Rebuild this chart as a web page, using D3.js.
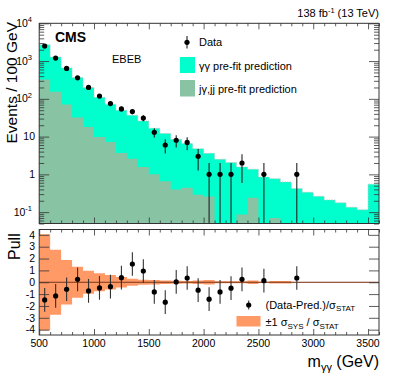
<!DOCTYPE html>
<html><head><meta charset="utf-8">
<script src="https://cdn.jsdelivr.net/npm/d3@7"></script>
<style>
body{margin:0;background:#fff}
svg{display:block;font-family:"Liberation Sans",Arial,Helvetica,sans-serif}
</style>
</head><body>
<svg id="c" width="399" height="382"></svg>
<script>
// ---------- data ----------
const binEdges = [500,600,700,800,900,1000,1100,1200,1300,1400,1500,1600,1700,1800,1900,2000,
                  2100,2200,2300,2400,2500,2600,2700,2800,2900,3000,3100,3200,3300,3400,3500,3600];
// total prediction (γγ + jγ,jj), events per bin
const predTotal = [2700,1280,660,365,200,110,72,50,37,26,16.6,12.1,8.5,6.6,4.8,3.6,2.5,2.05,1.57,1.37,
                   0.85,0.77,0.63,0.42,0.335,0.262,0.21,0.176,0.135,0.115,0.55];
// jγ,jj prediction
const predJet = [327,153,71,32,18,9.8,7.2,3.7,2.6,1.57,1.0,0.66,0.40,0.44,0.29,0.26,0,0,0.087,0.24,
                 0,0.07,0,0,0,0,0,0,0,0,0];
// observed data
const dataMass   = [550,650,750,850,950,1050,1150,1250,1350,1450,1550,1650,1750,1850,1950,2050,2150,2250,2350,2550,2850];
const dataCounts = [2500,1200,640,360,200,118,75,54,46,31,13,6,8,7,3,1,1,1,2,1,1];
const dataErr    = [50,34.6,25.3,19,14.1,10.9,8.7,7.3,6.8,5.6,3.6,2.45,2.83,2.65,1.73,1,1,1,1.41,1,1];
// pulls
const pullValues = [-1.49,-1.15,-0.59,0.25,-0.73,-0.48,-0.37,0.39,1.54,0.95,-0.82,-1.68,0.03,0.36,-0.67,
                    -1.43,-0.82,-0.50,0.25,0.13,0.36];
const pullErr    = [1,1,1,1,1,1,1,1,1,1,1,1,1,1,1,1,1,1,1,1,1];
// ±1 sigma_sys / sigma_stat band half-width per bin
const sysBand = [4.05,2.75,1.87,1.31,0.98,0.75,0.61,0.45,0.3,0.22,0.18,0.15,0.12,0.1,0.15,0.2,0.08,0.08,0.08,0.15,
                 0.05,0.1,0.1,0.03,0.03,0.03,0.03,0.03,0.03,0.03,0.03];
const xTickValues = [500,1000,1500,2000,2500,3000,3500];
const yTopMajor = [0.1,1,10,100,1000,10000];
const yTopLabels = [["10","-1"],["1",""],["10",""],["10","2"],["10","3"],["10","4"]];
const pullTicks = [-4,-3,-2,-1,0,1,2,3,4];

// ---------- layout ----------
const L = 39.2, R = 379;
const topT = 23.3, topB = 223.5;
const botT = 229.5, botB = 335;
const cCyan = "#00ffcc", cGreen = "#88c3a3", cOrange = "#ff9966";

const svg = d3.select("#c");
const x = d3.scaleLinear().domain([500,3600]).range([L,R]);
const yTop = d3.scaleLog().domain([0.05,1e4]).range([topB,topT]);
const yPull = d3.scaleLinear().domain([-4.45,4.45]).range([botB,botT]);

const defs = svg.append("defs");
defs.append("clipPath").attr("id","clipTop").append("rect")
  .attr("x",L).attr("y",topT).attr("width",R-L).attr("height",topB-topT);
defs.append("clipPath").attr("id","clipBot").append("rect")
  .attr("x",L).attr("y",botT).attr("width",R-L).attr("height",botB-botT);

function stepData(vals){
  const pts = vals.map((v,i)=>({e:binEdges[i], v:v}));
  pts.push({e:binEdges[binEdges.length-1], v:vals[vals.length-1]});
  return pts;
}
const ymin = 0.05;
const clampV = v => Math.max(v, ymin*0.999);

// ---------- top panel ----------
const gTop = svg.append("g").attr("clip-path","url(#clipTop)");
const areaTop = d3.area().curve(d3.curveStepAfter)
  .x(d=>x(d.e)).y0(topB).y1(d=>yTop(clampV(d.v)));
gTop.append("path").datum(stepData(predTotal)).attr("d",areaTop).attr("fill",cCyan);
const lineTop = d3.line().curve(d3.curveStepAfter).x(d=>x(d.e)).y(d=>yTop(clampV(d.v)));
gTop.append("path").datum(stepData(predTotal)).attr("d",lineTop)
  .attr("fill","none").attr("stroke","#b9c9c2").attr("stroke-width",0.8).attr("stroke-dasharray","1.5,1");
gTop.append("path").datum(stepData(predJet)).attr("d",areaTop).attr("fill",cGreen);

// data points
const gD = svg.append("g").attr("clip-path","url(#clipTop)");
dataMass.forEach((m,i)=>{
  const v = dataCounts[i], e = dataErr[i];
  const lo = v - e;
  gD.append("line").attr("x1",x(m)).attr("x2",x(m))
    .attr("y1", lo > ymin ? yTop(lo) : topB).attr("y2", yTop(v+e))
    .attr("stroke","#222").attr("stroke-width",1.1);
  gD.append("circle").attr("cx",x(m)).attr("cy",yTop(v)).attr("r",2.6).attr("fill","#000");
});

// axes top panel
function styleAxis(g){
  g.select(".domain").remove();
  g.selectAll(".tick line").attr("stroke","#333").attr("stroke-width",0.8);
  g.selectAll(".tick text").remove();
}
const minorEdges = binEdges.filter(e=>xTickValues.indexOf(e)<0);
svg.append("g").attr("transform",`translate(0,${topB})`)
  .call(d3.axisBottom(x).tickValues(xTickValues).tickSize(-6)).call(styleAxis);
svg.append("g").attr("transform",`translate(0,${topB})`)
  .call(d3.axisBottom(x).tickValues(minorEdges).tickSize(-3)).call(styleAxis);
svg.append("g").attr("transform",`translate(0,${topT})`)
  .call(d3.axisTop(x).tickValues(xTickValues).tickSize(-6)).call(styleAxis);
svg.append("g").attr("transform",`translate(0,${topT})`)
  .call(d3.axisTop(x).tickValues(minorEdges).tickSize(-3)).call(styleAxis);
const yMinor = yTop.ticks().filter(t=>yTopMajor.indexOf(t)<0);
svg.append("g").attr("transform",`translate(${L},0)`)
  .call(d3.axisLeft(yTop).tickValues(yTopMajor).tickSize(-10)).call(styleAxis);
svg.append("g").attr("transform",`translate(${L},0)`)
  .call(d3.axisLeft(yTop).tickValues(yMinor).tickSize(-5)).call(styleAxis);
svg.append("g").attr("transform",`translate(${R},0)`)
  .call(d3.axisRight(yTop).tickValues(yTopMajor).tickSize(-10)).call(styleAxis);
svg.append("g").attr("transform",`translate(${R},0)`)
  .call(d3.axisRight(yTop).tickValues(yMinor).tickSize(-5)).call(styleAxis);

// y tick labels (top)
yTopMajor.forEach((t,i)=>{
  const [base,sup] = yTopLabels[i];
  const tx = svg.append("text").attr("x", sup ? 32 : 35).attr("y", yTop(t)+3.6)
    .attr("text-anchor","end").attr("font-size",10.5).attr("fill","#000");
  tx.append("tspan").text(base);
  if (sup) tx.append("tspan").attr("dy",-4.5).attr("font-size",7.5).text(sup);
});

svg.append("rect").attr("x",L).attr("y",topT).attr("width",R-L).attr("height",topB-topT)
  .attr("fill","none").attr("stroke","#333").attr("stroke-width",1);

// texts top panel
svg.append("text").attr("x",55).attr("y",42).attr("font-size",14).attr("font-weight","bold").text("CMS");
svg.append("text").attr("x",112).attr("y",62.5).attr("font-size",11).text("EBEB");
const lumi = svg.append("text").attr("x",R).attr("y",17).attr("text-anchor","end").attr("font-size",11);
lumi.append("tspan").text("138 fb");
lumi.append("tspan").attr("dy",-4).attr("font-size",7.5).text("-1");
lumi.append("tspan").attr("dy",4).text(" (13 TeV)");

svg.append("text").attr("transform","translate(16.5,22) rotate(-90)")
  .attr("text-anchor","end").attr("font-size",15.5).text("Events / 100 GeV");

// legend top
const lg = svg.append("g");
lg.append("line").attr("x1",187).attr("x2",187).attr("y1",36).attr("y2",48.5).attr("stroke","#222").attr("stroke-width",1.1);
lg.append("circle").attr("cx",187).attr("cy",42.3).attr("r",2.6).attr("fill","#000");
lg.append("text").attr("x",199).attr("y",46.3).attr("font-size",11).text("Data");
lg.append("rect").attr("x",180).attr("y",57).attr("width",15).attr("height",16).attr("fill",cCyan);
lg.append("text").attr("x",199).attr("y",69.5).attr("font-size",11).text("γγ pre-fit prediction");
lg.append("rect").attr("x",180).attr("y",80).attr("width",15).attr("height",16.5).attr("fill",cGreen);
lg.append("text").attr("x",199).attr("y",92.5).attr("font-size",11).text("jγ,jj pre-fit prediction");

// ---------- bottom panel ----------
const gB = svg.append("g").attr("clip-path","url(#clipBot)");
const areaBand = d3.area().curve(d3.curveStepAfter)
  .x(d=>x(d.e)).y0(d=>yPull(-d.v)).y1(d=>yPull(d.v));
gB.append("path").datum(stepData(sysBand)).attr("d",areaBand).attr("fill",cOrange);
gB.append("line").attr("x1",L).attr("x2",R).attr("y1",yPull(0)).attr("y2",yPull(0))
  .attr("stroke","#7a3418").attr("stroke-width",1);
dataMass.forEach((m,i)=>{
  const p = pullValues[i], e = pullErr[i];
  gB.append("line").attr("x1",x(m)).attr("x2",x(m)).attr("y1",yPull(p-e)).attr("y2",yPull(p+e))
    .attr("stroke","#333").attr("stroke-width",1.1);
  gB.append("circle").attr("cx",x(m)).attr("cy",yPull(p)).attr("r",2.6).attr("fill","#000");
});

svg.append("g").attr("transform",`translate(0,${botB})`)
  .call(d3.axisBottom(x).tickValues(xTickValues).tickSize(-6)).call(styleAxis);
svg.append("g").attr("transform",`translate(0,${botB})`)
  .call(d3.axisBottom(x).tickValues(minorEdges).tickSize(-3)).call(styleAxis);
svg.append("g").attr("transform",`translate(0,${botT})`)
  .call(d3.axisTop(x).tickValues(xTickValues).tickSize(-6)).call(styleAxis);
svg.append("g").attr("transform",`translate(0,${botT})`)
  .call(d3.axisTop(x).tickValues(minorEdges).tickSize(-3)).call(styleAxis);
svg.append("g").attr("transform",`translate(${L},0)`)
  .call(d3.axisLeft(yPull).tickValues(pullTicks).tickSize(-10)).call(styleAxis);
svg.append("g").attr("transform",`translate(${R},0)`)
  .call(d3.axisRight(yPull).tickValues(pullTicks).tickSize(-10)).call(styleAxis);

pullTicks.forEach(t=>{
  svg.append("text").attr("x",35).attr("y",yPull(t)+3.7).attr("text-anchor","end")
    .attr("font-size",10.5).text(t<0 ? "-"+Math.abs(t) : String(t));
});
xTickValues.forEach(t=>{
  svg.append("text").attr("x",x(t)).attr("y",347).attr("text-anchor","middle")
    .attr("font-size",10.5).text(String(t));
});
svg.append("rect").attr("x",L).attr("y",botT).attr("width",R-L).attr("height",botB-botT)
  .attr("fill","none").attr("stroke","#333").attr("stroke-width",1);

svg.append("text").attr("transform","translate(20,233.3) rotate(-90)")
  .attr("text-anchor","end").attr("font-size",16).text("Pull");

const xt = svg.append("text").attr("x",R).attr("y",367).attr("text-anchor","end").attr("font-size",16);
xt.append("tspan").text("m");
xt.append("tspan").attr("dy",3.5).attr("font-size",11).text("γγ");
xt.append("tspan").attr("dy",-3.5).text(" (GeV)");

// bottom legend
const lb = svg.append("g");
lb.append("line").attr("x1",248.7).attr("x2",248.7).attr("y1",300.5).attr("y2",309.5).attr("stroke","#333").attr("stroke-width",1.1);
lb.append("circle").attr("cx",248.7).attr("cy",305).attr("r",2.6).attr("fill","#000");
const t1 = lb.append("text").attr("x",265.5).attr("y",308.5).attr("font-size",11);
t1.append("tspan").text("(Data-Pred.)/σ");
t1.append("tspan").attr("dy",2.5).attr("font-size",8).text("STAT");
lb.append("rect").attr("x",236.5).attr("y",316).attr("width",24).attr("height",10.5).attr("fill",cOrange);
const t2 = lb.append("text").attr("x",265.5).attr("y",326).attr("font-size",11);
t2.append("tspan").text("±1 σ");
t2.append("tspan").attr("dy",2.5).attr("font-size",8).text("SYS");
t2.append("tspan").attr("dy",-2.5).text(" / σ");
t2.append("tspan").attr("dy",2.5).attr("font-size",8).text("STAT");
</script>
</body></html>
